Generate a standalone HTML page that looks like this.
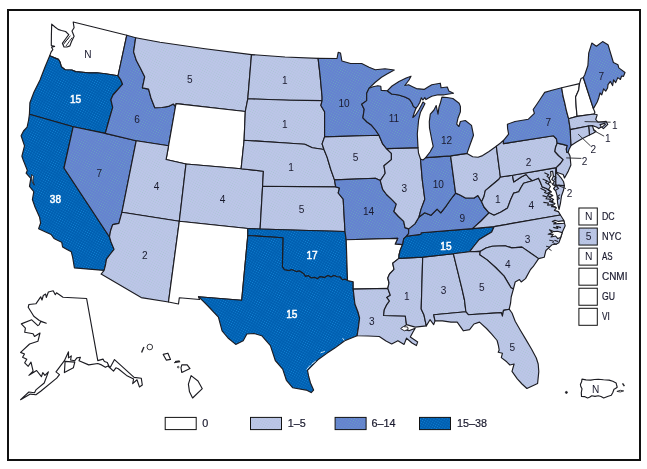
<!DOCTYPE html>
<html lang="en"><head><meta charset="utf-8"><title>Map</title>
<style>
html,body{margin:0;padding:0;background:#fff}
body{width:647px;height:469px;overflow:hidden;position:relative}
svg{position:absolute;left:0;top:0;display:block}
text{font-family:"Liberation Sans",sans-serif;fill:#1a1a2e}
.st{stroke:#1c1c22;stroke-width:1.15;stroke-linejoin:round}
.lb{font-size:10.3px;text-anchor:middle}
.w{fill:#fff;stroke:#fff;stroke-width:0.45}
.lg{font-size:10px;stroke:#1a1a2e;stroke-width:0.2}
.lg2{font-size:10.8px;stroke:#1a1a2e;stroke-width:0.2}
</style></head><body>
<svg width="647" height="469" viewBox="0 0 647 469">
<rect x="0" y="0" width="647" height="469" fill="#fff"/>
<rect x="8" y="10" width="632" height="450" fill="none" stroke="#111" stroke-width="2"/>
<defs>
<pattern id="pl" width="2.3" height="2.3" patternUnits="userSpaceOnUse" patternTransform="rotate(30)"><rect width="2.3" height="2.3" fill="#bdc5e9"/><circle cx="1.15" cy="1.15" r="0.58" fill="#a9c6d2"/></pattern>
<pattern id="pm" width="2.3" height="2.3" patternUnits="userSpaceOnUse" patternTransform="rotate(30)"><rect width="2.3" height="2.3" fill="#6580d1"/><circle cx="1.15" cy="1.15" r="0.58" fill="#68a8be"/></pattern>
<pattern id="pd" width="2.3" height="2.3" patternUnits="userSpaceOnUse" patternTransform="rotate(30)"><rect width="2.3" height="2.3" fill="#005eb0"/><circle cx="1.15" cy="1.15" r="0.58" fill="#1486d6"/></pattern>
</defs>
<g class="st">
<path id="WA" fill="#ffffff" d="M49.7,55.7 51.2,51.8 52.8,49.6 51.6,47.2 54.6,46.4 51.3,45.6 51.4,35 51.7,24.1 55,27 58.1,29.4 61.5,30.5 65.6,31.5 68.8,34.7 65.5,39 62.4,43.3 64,47 67,47 69.9,45.9 71.4,41.7 74.1,36.3 72,31 74.1,27.8 73.2,22 126.8,35.2 118,75.8 105.4,73.8 96.8,72.8 88,72.8 75.7,71.6 71.8,70 65.1,69.8 61.3,66.7 60,62 58.4,59.4 54,57.6Z"/>
<path id="OR" fill="url(#pd)" d="M29.4,114.3 29.9,102.7 34,92 40,80 45,67 49.7,55.7 54,57.6 58.4,59.4 60,62 61.3,66.7 65.1,69.8 71.8,70 75.7,71.6 88,72.8 96.8,72.8 105.4,73.8 118,75.8 120.6,79.6 122.6,84.2 113,95 110.9,99.7 112.7,107.4 109,120 105.3,133.4 73.2,126.7Z"/>
<path id="CA" fill="url(#pd)" d="M74.4,267.9 72.6,257 71.3,251.8 66.5,249.2 62.6,247 61.7,242.2 57.5,240.2 54,238.4 51.1,234.5 45,231.8 38.6,228.8 40.6,223 39.6,217.3 35,207 32.4,199.5 33.8,191.6 29.5,186.4 30.8,178.3 26.1,173.2 27.3,170.4 23.2,160 21.9,156.2 24.5,145.9 21.1,135.7 23.5,131 27.1,127.2 28.6,120 29.4,114.3 73.2,126.7 64,168 109.5,237 111,242 114,249.3 110,254.5 106.5,259.2 105.5,265 104.1,270.4Z"/>
<path id="NV" fill="url(#pm)" d="M73.2,126.7 105.3,133.4 136.2,140.8 121.9,212.3 118.9,223.4 112.7,224.6 110.5,231 109.5,237 64,168Z"/>
<path id="ID" fill="url(#pm)" d="M126.8,35.2 135.7,37.7 133.6,51.8 136.4,60.6 140.6,68.5 144.7,76.8 142.4,87.9 148.6,89.1 151,98 154.8,107.7 162,107.5 168.4,106.4 173.3,104 175.5,106.5 168.6,145.7 136.2,140.8 105.3,133.4 109,120 112.7,107.4 110.9,99.7 113,95 122.6,84.2 120.6,79.6 118,75.8Z"/>
<path id="MT" fill="url(#pl)" d="M135.7,37.7 160,42.3 205,48.8 251.5,54.6 247.8,98.8 245.3,111.5 176.1,103.6 175.5,106.5 173.3,104 168.4,106.4 162,107.5 154.8,107.7 151,98 148.6,89.1 142.4,87.9 144.7,76.8 140.6,68.5 136.4,60.6 133.6,51.8Z"/>
<path id="WY" fill="#ffffff" d="M175.5,106.5 176.1,103.6 245.3,111.5 244.1,140.3 241.1,168.7 186,164 166.1,159.5 168.6,145.7Z"/>
<path id="UT" fill="url(#pl)" d="M136.2,140.8 168.6,145.7 166.1,159.5 186,164 179.3,221.3 121.9,212.3Z"/>
<path id="AZ" fill="url(#pl)" d="M121.9,212.3 179.3,221.3 168.5,302 141.2,297.6 101.1,274.1 104.1,270.4 105.5,265 106.5,259.2 110,254.5 114,249.3 111,242 109.5,237 110.5,231 112.7,224.6 118.9,223.4Z"/>
<path id="CO" fill="url(#pl)" d="M186,164 241.1,168.7 263.4,171.2 262.6,186.3 260.1,229 247.8,228.5 179.3,221.3Z"/>
<path id="NM" fill="#ffffff" d="M179.3,221.3 247.8,228.5 247.8,235.5 241.7,300.3 198.5,296.7 199.6,299.5 179.3,297.8 178.5,304 168.5,302Z"/>
<path id="ND" fill="url(#pl)" d="M251.5,54.6 285,57 318.1,58.4 320,74.4 322.1,96.9 322.1,100.6 290,100.2 247.8,98.8Z"/>
<path id="SD" fill="url(#pl)" d="M247.8,98.8 290,100.2 322.1,100.6 320.9,105.5 324.6,111.7 324.6,136.9 322.1,143.9 324,149.5 312.3,147.7 304.8,144.3 290,143.3 244.1,140.3 245.3,111.5Z"/>
<path id="NE" fill="url(#pl)" d="M244.1,140.3 290,143.3 304.8,144.3 312.3,147.7 324,149.5 327.1,157.1 330.8,169.5 334.5,179.9 335.7,186.8 300,186.6 262.6,186.3 263.4,171.2 241.1,168.7Z"/>
<path id="KS" fill="url(#pl)" d="M262.6,186.3 300,186.6 335.7,186.8 339.5,188.1 338.2,193 343.2,199.2 345,231.5 300,230.3 260.1,229Z"/>
<path id="OK" fill="url(#pd)" d="M260.1,229 300,230.3 345,231.5 346.2,239.7 347.5,280.5 345,279.2 342.5,279.8 340,277 337.1,276.8 334,275.4 331,277 328,275.6 324.7,277.6 320,276.6 317.5,278.8 314.8,277.4 311,278 308.4,275.6 305.5,276.5 303.4,273.4 299.5,271 296,271.6 292,269.8 288.6,270.6 284.5,269.8 282.4,266.9 282.9,237.7 247.8,235.5 247.8,228.5Z"/>
<path id="TX" fill="url(#pd)" d="M247.8,235.5 282.9,237.7 282.4,266.9 284.5,269.8 288.6,270.6 292,269.8 296,271.6 299.5,271 303.4,273.4 305.5,276.5 308.4,275.6 311,278 314.8,277.4 317.5,278.8 320,276.6 324.7,277.6 328,275.6 331,277 334,275.4 337.1,276.8 340,277 342.5,279.8 345,279.2 347.5,280.5 353.2,281.7 353.2,289.1 354.9,304 358,312 359.6,318 358.5,327 357.1,335.7 344.7,340.7 334.8,348.1 327.2,353.1 318.6,359.2 313.6,364.2 307.5,370.4 308.7,376.5 310.5,383 313.6,390.1 311.2,392.6 306.2,390.1 292.6,387.7 286.4,380.3 282.7,369.1 275.3,360.5 270.4,345.6 261.7,335.7 254,333.5 246.9,334 243.2,340.7 235.7,344.4 228,338 222.1,330.8 218.4,317.2 208,306 198.5,296.7 241.7,300.3Z"/>
<path id="MN" fill="url(#pm)" d="M318.1,58.4 337,58.5 338.2,52.4 340.5,53 341.9,61 350.6,63.5 361.7,63.5 369.1,67.2 375.3,69.7 385,68.8 394.3,70 387,74 381.5,77.3 375,82.5 369.1,88.2 366.7,93.2 366.7,100.6 361.7,104.3 364.2,109.3 362.9,117.9 367,122 371.6,125.3 375.5,130 379,135.3 324.6,136.9 324.6,111.7 320.9,105.5 322.1,100.6 322.1,96.9 320,74.4Z"/>
<path id="IA" fill="url(#pl)" d="M324.6,136.9 379,135.3 382.7,143.9 386.5,148.6 391.4,153.4 391.4,159.6 384,165.8 385.2,173.2 380.3,180.6 375.3,178.2 334.5,179.9 330.8,169.5 327.1,157.1 324,149.5 322.1,143.9Z"/>
<path id="MO" fill="url(#pm)" d="M334.5,179.9 375.3,178.2 380.3,180.6 382.7,189.3 386.5,194.5 391.4,199.2 396.3,204.1 393.9,211.5 398.5,216.5 403.7,221.4 405,227.6 408.7,228.9 408.6,233.6 406.3,236.3 403.6,239 403.2,242 402.6,244.6 395.2,244.1 397.7,238.4 346.2,239.7 345,231.5 343.2,199.2 338.2,193 339.5,188.1 335.7,186.8Z"/>
<path id="AR" fill="#ffffff" d="M346.2,239.7 397.7,238.4 395.2,244.1 402.6,244.6 400.2,250.2 399,255 398.9,258.4 392.7,263.2 394,269.3 389.5,274 387.8,278 389,283 387.8,288.4 353.2,289.1 353.2,281.7 347.5,280.5Z"/>
<path id="LA" fill="url(#pl)" d="M353.2,289.1 387.8,288.4 390.3,295.3 386.8,297.4 389.5,301 386.5,305.2 384.3,309.8 383.6,315.5 405.3,316 406.5,324.6 401.6,328.3 404,329.5 409,330.8 415.2,328.3 413,332 410.3,337 417.7,341.9 416.4,345.6 412,343 406.5,338.2 404.1,344.4 397.9,340.7 391.7,343.9 386,341 379.3,336.5 368,336 357.1,335.7 358.5,327 359.6,318 358,312 354.9,304Z"/>
<path id="MS" fill="url(#pl)" d="M398.9,258.4 422.7,257.1 421.2,308.9 423.9,314.7 426.3,325.9 415.2,327.1 406.5,324.6 405.3,316 383.6,315.5 384.3,309.8 386.5,305.2 389.5,301 386.8,297.4 390.3,295.3 387.8,288.4 389,283 387.8,278 389.5,274 394,269.3 392.7,263.2Z"/>
<path id="AL" fill="url(#pl)" d="M422.7,257.1 453.4,253.8 462,288.9 464.5,300 465.9,311.8 433.7,314.7 435,320.9 433.7,324.6 430,319.7 426.3,325.9 423.9,314.7 421.2,308.9Z"/>
<path id="TN" fill="url(#pd)" d="M406.3,236.3 420.7,234.4 421.3,232.7 472.5,228.6 494.2,226.6 491.7,232 485,236 479.3,239.5 474,246 469.5,251.8 453.4,253.8 422.7,257.1 398.9,258.4 399,255 400.2,250.2 402.6,244.6 403.2,242 403.6,239Z"/>
<path id="KY" fill="url(#pm)" d="M408.7,228.9 414.9,223.9 419,217 424.7,212.8 430.9,215.3 437.1,209.1 440.8,212.8 445.7,206.7 451,199 455.6,193.1 460,195 465.5,198 474.2,198 477.9,195.5 481.6,201.7 484,207 489,212.8 481,221 472.5,228.6 421.3,232.7 420.7,234.4 406.3,236.3 408.6,233.6Z"/>
<path id="IL" fill="url(#pl)" d="M386.5,148.6 418,147.6 418.5,153 420.5,159 422.3,180 424.8,199.2 421.1,209.1 419,217 414.9,223.9 408.7,228.9 405,227.6 403.7,221.4 398.5,216.5 393.9,211.5 396.3,204.1 391.4,199.2 386.5,194.5 382.7,189.3 380.3,180.6 385.2,173.2 384,165.8 391.4,159.6 391.4,153.4Z"/>
<path id="WI" fill="url(#pm)" d="M369.1,88.2 373,86.8 377.8,85.7 380.8,86.3 381.2,90.4 387.2,90.8 391.6,94 398.8,95 405,97 409.5,99.3 412,103 413.4,106.4 416,108.2 414.2,113 412.8,117.5 415.4,115.3 418.8,110 421.6,104.8 423,102 425,103.6 423,107.5 420.4,112.5 418.6,120 417.3,134 418,147.6 386.5,148.6 382.7,143.9 379,135.3 375.5,130 371.6,125.3 367,122 362.9,117.9 364.2,109.3 361.7,104.3 366.7,100.6 366.7,93.2Z"/>
<path id="IN" fill="url(#pm)" d="M420.5,159 423,160 425.7,157.6 450.6,155.9 455.6,193.1 451,199 445.7,206.7 440.8,212.8 437.1,209.1 430.9,215.3 424.7,212.8 419,217 421.1,209.1 424.8,199.2 422.3,180Z"/>
<path id="OH" fill="url(#pl)" d="M450.6,155.9 467,153.4 472.7,156.8 478,157.2 482.6,155.6 489,151.5 496.3,146.2 500.4,177 498.9,179.2 492,185 485.3,190.6 484,196.5 481.6,201.7 477.9,195.5 474.2,198 465.5,198 460,195 455.6,193.1Z"/>
<path id="MI" fill="url(#pm)" d="M387.2,90.8 392,86 399,81.5 406.2,78 411,76.2 409,80 404.8,85.5 408.6,84.7 412.5,86.7 416.4,88.6 424.1,89.4 428,87 431.8,84.7 440.3,83.2 441.1,87.8 447.3,87 448.8,90.9 453.5,93.2 444.2,94.8 438,94.8 431.8,96.3 428.5,98 426,99.6 424.8,97.6 422.9,100 421.3,97.8 419.8,102.5 417.9,105.8 416,108.2 413.4,106.4 412,103 409.5,99.3 405,97 398.8,95 391.6,94ZM425.7,157.6 430,152 433.2,146.4 431.8,140 430.7,134.1 429.5,128 429.3,121.7 430.3,114.1 434,110 436.2,105.5 438,114.1 439,107 440.3,103.3 441.9,97.1 447,97.5 452.9,98.5 459.1,103.2 460.4,106.4 460.4,111.8 458,118 456.7,124.2 458.9,126.5 460.4,121.5 465.3,120.5 471.5,125.4 473.5,135.3 470.3,144 467,153.4 450.6,155.9Z"/>
<path id="WV" fill="url(#pl)" d="M500.4,177 512.5,175.3 513.7,181.9 517.5,179.5 521.2,177 526.1,174.5 529,178 532.3,180.7 523.6,183.2 521,187.5 518.7,191.8 513.7,193.1 510.5,200 507.6,207.9 501,212 494,215.3 489,212.8 484,207 481.6,201.7 484,196.5 485.3,190.6 492,185 498.9,179.2Z"/>
<path id="VA" fill="url(#pl)" d="M489,212.8 481,221 472.5,228.6 494.2,226.6 560.4,215 558.4,211.6 554.4,210.4 556.4,207.8 552.2,206.2 555,203.6 550.6,201.8 553.6,199.5 549.2,197 552.8,195.6 548,192.8 551.2,192 546.5,188.5 542.2,186.9 540.5,182.5 538.5,178.2 532.3,180.7 523.6,183.2 521,187.5 518.7,191.8 513.7,193.1 510.5,200 507.6,207.9 501,212 494,215.3Z"/>
<path id="MD" fill="url(#pl)" d="M512.5,175.3 556.3,167.6 555.7,172 555.9,185.1 564.4,185.6 563.6,190 561.5,196 560.5,203 559,209.5 557.6,203 557.2,196 555.8,191 553.6,188.5 555.6,186.2 552.6,184.5 554.4,181.5 551.8,179.5 553.4,176.2 552.6,171.2 550.6,171.6 551,175.5 549,178.5 550.6,181.5 548.2,183.5 550.4,186.5 548.5,189.5 551.2,192 546.5,188.5 542.2,186.9 540.5,182.5 538.5,178.2 532.3,180.7 529,178 526.1,174.5 521.2,177 517.5,179.5 513.7,181.9Z"/>
<path id="DE" fill="url(#pl)" d="M556.3,167.6 556.4,172.8 558.6,175.2 561,177.8 563.6,181.8 564.4,185.6 555.9,185.1 555.7,172Z"/>
<path id="PA" fill="url(#pl)" d="M496.3,146.2 500.5,143 503.6,140.3 503.4,143.6 553.5,135.8 556.5,139 557.2,143.1 555.5,147.5 554.9,151.5 558.5,155.5 563.2,159.6 560.5,163.5 556.3,167.6 512.5,175.3 500.4,177Z"/>
<path id="NJ" fill="url(#pl)" d="M557.2,143.1 563,144.4 567.3,145.6 566.3,149 566.8,152.3 568.6,153 570,156 570.9,165 568.3,171.1 564.5,178 563.2,174.5 559.5,173.2 556.6,172.4 556.3,167.6 560.5,163.5 563.2,159.6 558.5,155.5 554.9,151.5 555.5,147.5Z"/>
<path id="NY" fill="url(#pm)" d="M503.6,140.3 508.6,134.1 507.6,128.5 507.4,124.2 515,121.5 528.4,119.2 534.4,113.3 533.2,109.5 537,104 540,99.5 544.7,92.4 552,90.3 561.7,87.8 563,96 564.8,103.2 566.5,111 568.6,118.7 570.3,129.6 570.6,138 571.1,145.4 569,149.5 568.2,152.3 566.8,152.3 566.3,149 567.3,145.6 563,144.4 557.2,143.1 556.5,139 553.5,135.8 503.4,143.6Z"/>
<path id="VT" fill="#ffffff" d="M561.7,87.8 579.5,83.6 578.7,90.1 575.6,97 576.2,107 577.1,116.4 568.6,118.7 566.5,111 564.8,103.2 563,96Z"/>
<path id="NH" fill="#ffffff" d="M579.5,83.6 581,78.5 583.3,77.5 588,92 593.4,108.6 594.9,112.3 594.1,114 577.1,116.4 576.2,107 575.6,97 578.7,90.1Z"/>
<path id="ME" fill="url(#pm)" d="M583.3,77.5 584.8,74.8 587.9,65.5 588.7,53.2 591.8,43.1 596.4,46.2 602.6,41.6 608,44.7 613.4,62.5 618,64.8 618.8,67.9 625,72.5 623.5,76.4 621.6,76 620.4,79.5 617.8,77.6 615.7,82.6 613.6,79.8 612.6,85.6 610.4,81.4 608,84.6 607.6,88 605.7,91.1 603.6,88.8 601.8,94.9 600,93 598.7,98 597.2,102 593.4,108.6 588,92Z"/>
<path id="MA" fill="url(#pl)" d="M568.6,118.7 577.1,116.4 594.1,114 597.2,114.8 595.7,119.5 598,122.2 602,121.8 606.2,121.4 607.8,124.4 603.4,128.6 601.8,127.4 605.4,124.4 604.6,123.4 600,124.6 601.2,127 598.8,128.6 596.4,127 592.4,125.6 588.6,126 570.3,129.6Z"/>
<path id="RI" fill="url(#pl)" d="M588.6,126 592.4,125.6 593.6,129.5 596,131.5 593.2,133.2 589.5,135.1Z"/>
<path id="CT" fill="url(#pl)" d="M570.3,129.6 588.6,126 589.5,135.1 582.5,138.4 576.5,142 571.1,145.4 570.6,138Z"/>
<path id="NC" fill="url(#pl)" d="M494.2,226.6 560.4,215 563.6,220 565.2,225.8 562.4,232 560.8,237.5 558.8,242.8 556,244.2 551.9,244.8 545.9,250.5 544.2,257.3 538.6,258.6 522,247.1 511.8,247.9 505,245.7 492.2,246.2 486,248 480,251.4 469.5,251.8 474,246 479.3,239.5 485,236 491.7,232Z"/>
<path id="SC" fill="url(#pl)" d="M480,251.4 486,248 492.2,246.2 505,245.7 511.8,247.9 522,247.1 538.6,258.6 533.1,266.7 530.5,269.5 525.5,278.6 521.2,282 519.5,279.6 515.2,282 513.4,289 511,287.8 504.1,276.1 495.6,267.5 487.1,259.9 479.6,254.7Z"/>
<path id="GA" fill="url(#pl)" d="M453.4,253.8 469.5,251.8 480,251.4 479.6,254.7 487.1,259.9 495.6,267.5 504.1,276.1 511,287.8 513.4,289 511.2,297 510.6,303 509.2,309.2 503.5,310.4 502.4,316.2 501.3,312.6 468.3,314.7 465.9,311.8 464.5,300 462,288.9Z"/>
<path id="FL" fill="url(#pl)" d="M465.9,311.8 433.7,314.7 435,320.9 442.4,320.9 451,322.1 457.2,322.1 463.4,330.8 469.6,329.6 474,324 479.5,322.1 486.5,328.5 491.7,334.1 497.1,340.5 498.4,345.5 499.2,350.1 498.2,352.2 502.4,353.3 501.3,357.6 506.7,361.8 509.9,365 514.1,364 512,371.4 517.3,378.9 522,384 526.9,388.5 537.6,383.4 538.8,371.6 538.2,364 536.3,358 531.5,349 525.8,339.4 520.5,330.5 515.2,321.3 512,313 509.2,309.2 503.5,310.4 502.4,316.2 501.3,312.6 468.3,314.7Z"/>
<path id="AK" fill="#ffffff" d="M53.2,290.8 55.3,294.7 56.5,292.8 63,297.2 86.6,298.5 97.8,360.6 103,359.1 104.4,361.5 107.3,362.5 109.2,366.8 110.6,366.8 114.5,359.6 134.1,377.4 141.3,378.3 142.3,385 139.4,386.9 137,379.8 132.7,383.6 133.6,379 126.5,375.4 118.3,368.7 115.9,367.8 113.5,371.1 108,366 105.4,367.3 101.5,364.9 97.8,363.5 88.7,364.9 79,360.7 80.4,357.3 76.9,357.9 74.8,360.7 70.6,360 71.3,355.9 68.5,357.9 68.5,351.7 64.4,360.7 56,371.9 59.5,374.6 56.7,378.1 40.7,391.3 35.9,394.8 30.3,394.1 20.6,399.7 28.9,392 34.5,392.7 35.9,389.9 44.2,383 48.4,371.9 44.9,375.3 42.8,372.6 41.4,376.7 36.6,370.5 28.9,375.3 33.1,371.2 31,362.1 28.2,366.3 24.7,362.8 26.8,359.3 22.6,357.3 24.5,354 20.6,352.4 29.6,344 37.9,341.3 40,333 34.5,336.5 33.1,333.7 24.7,332.3 25.4,328.1 21.3,323.9 31.7,319.8 37.9,325.6 39.3,324.6 40.7,321.5 46.3,323.2 39.3,320.5 33.8,316.3 28.2,307.3 28.9,304.5 35.9,303.8 40.7,296.8 42,300 43.3,295.5 45.6,294 46.3,297.5 48.4,292ZM65.1,361.4 64.4,372.6 73.4,367.7 74.8,362.1Z"/>
<path id="HI" fill="#ffffff" d="M163.2,354.4 167.9,353.2 170.5,359.4 166.3,360.1ZM181.8,364.8 187.2,364.8 190,368.6 181.8,372.5 181,367.9ZM191.1,375.6 198,381 202.3,388.7 192.6,398 189.5,391.8 188.4,384.1Z"/>
<path id="PR" fill="#ffffff" d="M582,379.1 586,379.9 590.7,380.1 594.5,379.5 598.3,379.3 603.5,379.8 609.1,380.1 612.8,381.3 616.1,382.9 616.6,385 617.2,387.2 615.5,388.5 614,389.3 612.8,392.5 611.3,395.3 607.5,396.5 603.7,398 601,396.5 598.3,395.8 595,396.4 591.8,395.8 589.5,397.3 587.5,398 584.5,396.6 581.5,396.4 581.3,392.5 582,388.8 580.8,386.5 580.4,384.5 581.6,381.8Z"/>
</g>
<g fill="#fff" stroke="#1c1c22" stroke-width="0.9" stroke-linejoin="round">
<path fill="none" d="M63.4,44.6L66.5,40.5L70.4,35.6M66,46L69,41.8L72.2,37.6M64.6,42.2L68.6,38.4"/>
<path d="M31.6,174.4L33.4,176.2L32.9,180.8L34.3,185.2L32.3,182.2L31.5,178.2Z"/>
<path fill="none" stroke-width="1.1" d="M551,197L547.5,195.8L549,194.2L544.5,192.6L546,191L540.5,188.2M553.4,201.6L549.5,201.4L550.6,199.4L546,198.8L547.2,197L542.6,195.6M555.6,206.6L551.6,206.8L552.4,204.6L547.6,205.2L548.4,203L543.4,202.4M548.8,184.6L545.6,182.6L547.2,181L542.6,179M550,178.6L547,176.4L548.6,174.8L544.4,172.8M557,200L559.4,198.4L557.4,196.6L560,194.6M556,190L558.6,188.4L556.6,186.6L559.4,184.8M553.6,176L556,177.6L554.2,179.6"/>
<path stroke-width="1.1" d="M563.8,220.6L558.5,221.4L555,220.2L552.2,221.4L556,222.6L553.6,224L558.4,223.6L564.4,223.2Z"/>
<path stroke-width="1.1" d="M562.2,232.6L557.5,231.2L553.5,231.6L549.5,229.8L552.4,232.6L548.2,234.2L553.2,234.4L551,237L555.6,236L557.8,238.6L560.6,237.4Z"/>
<path fill="none" stroke-width="1.1" d="M561,227.6L556.6,226.4L557.8,228.4L553.2,227.4M558,241.6L554.4,240.2"/>
<path fill="none" d="M556.8,244.4L552.6,242.6L553.6,241L549.2,240.2M551.5,250.6L548.5,248.6L549.6,247L546,246.2"/>
<path d="M400.6,328.6L403.4,326.6L407.6,327L408.2,329.4L404.4,330.8Z"/>
<path fill="none" stroke="#fff" stroke-width="0.8" d="M306.6,369.6L310.4,365.2M311.4,364.4L315.8,361M320.6,352.8L324.8,351.4M342.6,338.2L344.2,340.4"/>
</g>
<g fill="none" stroke="#26262a" stroke-width="0.9">
<path d="M141.6,352.4L143.9,347" stroke-width="1.4"/><circle cx="149.8" cy="347" r="2.8"/><path d="M174,362.7L180.2,361.7M175,361.5L179.6,360.9" stroke-width="1.1"/><circle cx="178.2" cy="367.1" r="0.8"/>
<circle cx="566.4" cy="392.4" r="1" fill="#1c1c22"/><path d="M616.9,391.4q3.4,-1.9 6.8,-0.5q-3.4,1.9 -6.8,0.5z"/><path d="M622.5,383.3l1.9,2.9" stroke-width="1.5"/>
<path d="M566.2,157.9L581.4,158.4"/>
<path d="M578.1,134.1L590.6,146"/>
<path d="M545,180.5L566,188.6"/>
<path d="M584.6,121.6L610.6,122.2"/>
<path d="M593.3,130.3L604.1,136.2"/>
</g>
<g class="lb">
<text transform="translate(88,57.75) scale(0.98,1.05)">N</text>
<text transform="translate(75.6,102.75) scale(0.98,1.05)" class="w">15</text>
<text transform="translate(55.4,202.65) scale(0.98,1.05)" class="w">38</text>
<text transform="translate(137,122.55) scale(0.98,1.05)">6</text>
<text transform="translate(99.3,176.65) scale(0.98,1.05)">7</text>
<text transform="translate(189.9,83.05) scale(0.98,1.05)">5</text>
<text transform="translate(156.5,189.85) scale(0.98,1.05)">4</text>
<text transform="translate(222.6,202.85) scale(0.98,1.05)">4</text>
<text transform="translate(144.9,259.25) scale(0.98,1.05)">2</text>
<text transform="translate(284.9,83.85) scale(0.98,1.05)">1</text>
<text transform="translate(284.9,127.65) scale(0.98,1.05)">1</text>
<text transform="translate(291.1,171.45) scale(0.98,1.05)">1</text>
<text transform="translate(301.6,212.55) scale(0.98,1.05)">5</text>
<text transform="translate(312.1,259.05) scale(0.98,1.05)" class="w">17</text>
<text transform="translate(291.8,317.65) scale(0.98,1.05)" class="w">15</text>
<text transform="translate(344.1,106.85) scale(0.98,1.05)">10</text>
<text transform="translate(355.5,160.85) scale(0.98,1.05)">5</text>
<text transform="translate(368.6,215.15) scale(0.98,1.05)">14</text>
<text transform="translate(371.9,324.65) scale(0.98,1.05)">3</text>
<text transform="translate(393.9,122.35) scale(0.98,1.05)">11</text>
<text transform="translate(404.2,191.85) scale(0.98,1.05)">3</text>
<text transform="translate(446.5,144.15) scale(0.98,1.05)">12</text>
<text transform="translate(438.3,187.85) scale(0.98,1.05)">10</text>
<text transform="translate(475.4,180.75) scale(0.98,1.05)">3</text>
<text transform="translate(462.4,221.55) scale(0.98,1.05)">9</text>
<text transform="translate(445.9,250.15) scale(0.98,1.05)" class="w">15</text>
<text transform="translate(406.8,299.85) scale(0.98,1.05)">1</text>
<text transform="translate(443.5,293.55) scale(0.98,1.05)">3</text>
<text transform="translate(481.8,290.95) scale(0.98,1.05)">5</text>
<text transform="translate(512.3,350.65) scale(0.98,1.05)">5</text>
<text transform="translate(507.8,267.95) scale(0.98,1.05)">4</text>
<text transform="translate(527.6,243.25) scale(0.98,1.05)">3</text>
<text transform="translate(531.3,209.05) scale(0.98,1.05)">4</text>
<text transform="translate(497.8,203.05) scale(0.98,1.05)">1</text>
<text transform="translate(528.6,165.85) scale(0.98,1.05)">2</text>
<text transform="translate(548.2,126.35) scale(0.98,1.05)">7</text>
<text transform="translate(601.4,79.95) scale(0.98,1.05)">7</text>
<text transform="translate(595.6,392.75) scale(0.98,1.05)">N</text>
<text transform="translate(584.6,165.45) scale(0.98,1.05)">2</text>
<text transform="translate(593.3,152.95) scale(0.98,1.05)">2</text>
<text transform="translate(569.6,196.55) scale(0.98,1.05)">2</text>
<text transform="translate(614.7,128.65) scale(0.98,1.05)">1</text>
<text transform="translate(607.9,141.65) scale(0.98,1.05)">1</text>
</g>
<g>
<rect x="578.9" y="208.00" width="18.4" height="17" fill="#ffffff" stroke="#111" stroke-width="1"/>
<text class="lb" x="588.6" y="219.90">N</text>
<text class="lg" x="602" y="219.90" textLength="12.7" lengthAdjust="spacingAndGlyphs">DC</text>
<rect x="578.9" y="228.06" width="18.4" height="17" fill="url(#pl)" stroke="#111" stroke-width="1"/>
<text class="lb" x="588.6" y="239.96">5</text>
<text class="lg" x="602" y="239.96" textLength="19.4" lengthAdjust="spacingAndGlyphs">NYC</text>
<rect x="578.9" y="248.12" width="18.4" height="17" fill="#ffffff" stroke="#111" stroke-width="1"/>
<text class="lb" x="588.6" y="260.02">N</text>
<text class="lg" x="602" y="260.02" textLength="10.6" lengthAdjust="spacingAndGlyphs">AS</text>
<rect x="578.9" y="268.18" width="18.4" height="17" fill="#ffffff" stroke="#111" stroke-width="1"/>
<text class="lg" x="602" y="280.08" textLength="25.4" lengthAdjust="spacingAndGlyphs">CNMI</text>
<rect x="578.9" y="288.24" width="18.4" height="17" fill="#ffffff" stroke="#111" stroke-width="1"/>
<text class="lg" x="602" y="300.14" textLength="13" lengthAdjust="spacingAndGlyphs">GU</text>
<rect x="578.9" y="308.30" width="18.4" height="17" fill="#ffffff" stroke="#111" stroke-width="1"/>
<text class="lg" x="602" y="320.20" textLength="7.8" lengthAdjust="spacingAndGlyphs">VI</text>
</g>
<g>
<rect x="165.2" y="417.4" width="31" height="12.2" fill="#ffffff" stroke="#111" stroke-width="1"/>
<text class="lg2" x="202.2" y="427.3">0</text>
<rect x="250.5" y="417.4" width="31" height="12.2" fill="url(#pl)" stroke="#111" stroke-width="1"/>
<text class="lg2" x="287.7" y="427.3">1–5</text>
<rect x="335.1" y="417.4" width="31" height="12.2" fill="url(#pm)" stroke="#111" stroke-width="1"/>
<text class="lg2" x="371.4" y="427.3">6–14</text>
<rect x="419.5" y="417.4" width="31" height="12.2" fill="url(#pd)" stroke="#111" stroke-width="1"/>
<text class="lg2" x="456.9" y="427.3">15–38</text>
</g>
</svg></body></html>
